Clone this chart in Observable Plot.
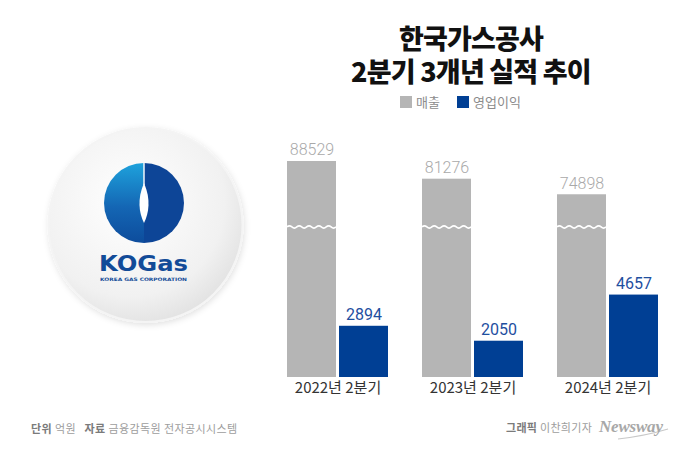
<!DOCTYPE html>
<html>
<head>
<meta charset="utf-8">
<script src="https://cdn.jsdelivr.net/npm/d3@7"></script>
<script src="https://cdn.jsdelivr.net/npm/@observablehq/plot@0.6"></script>
<style>
  html, body { margin: 0; padding: 0; background: #fff; }
  #root { position: relative; width: 700px; height: 450px; overflow: hidden; background: #fff; font-family: "Noto Sans CJK KR", "Noto Sans", sans-serif; }
  .abs { position: absolute; white-space: nowrap; }
  .title { font-weight: 900; font-size: 27px; color: #111; letter-spacing: -0.8px; line-height: 32.5px; width: 700px; text-align: center; }
  .legend { font-size: 13px; color: #8c8c8c; line-height: 13px; }
  .sw { display: inline-block; width: 12px; height: 12px; vertical-align: -1px; margin-right: 4px; }
  .foot { font-size: 11px; line-height: 11px; color: #9d9d9d; }
  .foot b { color: #7b7b7b; font-weight: 700; }
  svg.plot { position: absolute; left: 0; top: 0; }
</style>
</head>
<body>
<div id="root">
  <svg id="deco" class="abs" style="left:0;top:0" width="700" height="450"></svg>
  <div class="abs title" style="left:121px;top:22px;">한국가스공사<br>2분기 3개년 실적 추이</div>
  <div class="abs legend" style="left:400px;top:95px;"><span class="sw" style="background:#b5b5b5"></span>매출</div>
  <div class="abs legend" style="left:457px;top:95px;"><span class="sw" style="background:#003f94"></span>영업이익</div>
  <div class="abs foot" style="left:31px;top:423px;letter-spacing:0.4px;"><b>단위</b> 억원&nbsp;&nbsp;&nbsp;<b>자료</b> 금융감독원 전자공시시스템</div>
  <div class="abs foot" style="left:506px;top:421.5px;letter-spacing:0.3px;"><b>그래픽</b> 이찬희기자</div>
  <div class="abs" style="left:599px;top:418px;font-family:'Liberation Serif',serif;font-style:italic;font-weight:700;font-size:17px;line-height:18px;color:#a8a8a8;letter-spacing:-0.2px;">Newsway</div>
</div>
<script>
// ---- data ----
const years = ["2022년 2분기", "2023년 2분기", "2024년 2분기"];
const sales = [88529, 81276, 74898];      // 매출 (억원)
const profit = [2894, 2050, 4657];        // 영업이익 (억원)
const seriesNames = ["매출", "영업이익"];

const data = years.map((year, i) => ({year, sales: sales[i], profit: profit[i]}));

// ---- layout / style ----
const grayFill = "#b5b5b5", blueFill = "#003f94";
const breakAt = 61500; // decorative axis-break position on the 매출 scale
const common = {
  width: 700, height: 450,
  marginLeft: 286, marginRight: 42, marginTop: 140, marginBottom: 73,
  x: {domain: years, paddingInner: 0.2546, paddingOuter: 0, label: null}
};

const root = document.getElementById("root");

// 매출 layer (own linear scale)
const grayPlot = Plot.plot({
  ...common,
  y: {domain: [0, 97135], axis: null},
  style: {background: "transparent", fontFamily: "'Noto Sans CJK KR', sans-serif", color: "#333"},
  marks: [
    Plot.barY(data, {x: "year", y: "sales", fill: grayFill, insetRight: 52}),
    Plot.text(data, {x: "year", y: "sales", text: d => String(d.sales), dx: -26, dy: -6, lineAnchor: "bottom",
      fill: "#a9a9a9", fontSize: 16, fontFamily: "Roboto", fontWeight: 300}),
    Plot.axisX({tickSize: 0, tickPadding: 5, fontSize: 15, fill: "#333", label: null})
  ]
});
grayPlot.classList.add("plot");
root.appendChild(grayPlot);

// wavy break on the gray bars
{
  const xs = grayPlot.scale("x"), ys = grayPlot.scale("y");
  const svg = d3.select(grayPlot);
  const yb = ys.apply(breakAt);
  const bw = xs.bandwidth - 52;
  for (const yr of years) {
    const x0 = xs.apply(yr);
    const n = 5, seg = bw / n;
    let p = `M${x0},${yb}`;
    for (let k = 0; k < n; k++) {
      const a = x0 + k * seg;
      p += ` Q${a + seg / 4},${yb - 2.2} ${a + seg / 2},${yb} T${a + seg},${yb}`;
    }
    svg.append("path").attr("d", p).attr("fill", "none").attr("stroke", "#fff").attr("stroke-width", 1.6);
  }
}

// 영업이익 layer (own linear scale)
const bluePlot = Plot.plot({
  ...common,
  x: {...common.x, axis: null},
  y: {domain: [0, 13390], axis: null},
  style: {background: "transparent"},
  marks: [
    Plot.barY(data, {x: "year", y: "profit", fill: blueFill, insetLeft: 52}),
    Plot.text(data, {x: "year", y: "profit", text: d => String(d.profit), dx: 26, dy: -6, lineAnchor: "bottom",
      fill: "#1f4f9f", fontSize: 16, fontFamily: "Roboto", fontWeight: 400})
  ]
});
bluePlot.classList.add("plot");
root.appendChild(bluePlot);

// ---- decorative logo ----
{
  const deco = d3.select("#deco");
  const defs = deco.append("defs");
  const rg = defs.append("radialGradient").attr("id", "disc").attr("cx", "0.42").attr("cy", "0.38").attr("r", "0.65");
  rg.append("stop").attr("offset", "0").attr("stop-color", "#ffffff");
  rg.append("stop").attr("offset", "0.75").attr("stop-color", "#f1f1f1");
  rg.append("stop").attr("offset", "1").attr("stop-color", "#e2e2e2");
  const lg = defs.append("linearGradient").attr("id", "lb").attr("x1", 0).attr("y1", 0).attr("x2", 0).attr("y2", 1);
  lg.append("stop").attr("offset", "0").attr("stop-color", "#1ea2dc");
  lg.append("stop").attr("offset", "0.55").attr("stop-color", "#1466b4");
  lg.append("stop").attr("offset", "1").attr("stop-color", "#0d4c9c");
  const f = defs.append("filter").attr("id", "sh").attr("x", "-20%").attr("y", "-20%").attr("width", "140%").attr("height", "140%");
  f.append("feDropShadow").attr("dx", 1).attr("dy", 2).attr("stdDeviation", 3).attr("flood-color", "#000").attr("flood-opacity", 0.12);

  deco.append("circle").attr("cx", 145.5).attr("cy", 225).attr("r", 97).attr("fill", "url(#disc)")
    .attr("stroke", "#f4f4f4").attr("stroke-width", 2).attr("filter", "url(#sh)");

  const cx = 144, cy = 203, r = 40;
  deco.append("path").attr("d", `M${cx},${cy - r} A${r},${r} 0 0 0 ${cx},${cy + r} Z`).attr("fill", "url(#lb)");
  deco.append("path").attr("d", `M${cx},${cy - r} A${r},${r} 0 0 1 ${cx},${cy + r} Z`).attr("fill", "#0d4597");
  deco.append("line").attr("x1", cx).attr("x2", cx).attr("y1", cy - r).attr("y2", cy - 18).attr("stroke", "#fff").attr("stroke-width", 1.4);
  deco.append("path").attr("d", `M${cx},${cy - 20} C${cx + 7},${cy - 4} ${cx + 5},${cy + 10} ${cx},${cy + 20} C${cx - 5},${cy + 10} ${cx - 7},${cy - 4} ${cx},${cy - 20} Z`).attr("fill", "#fff");

  deco.append("text").attr("x", 99).attr("y", 271).attr("textLength", 89).attr("lengthAdjust", "spacingAndGlyphs")
    .attr("font-family", "'DejaVu Sans', sans-serif").attr("font-weight", 700).attr("font-size", 21).attr("fill", "#124b98").text("KOGas");
  deco.append("text").attr("x", 100).attr("y", 280.5).attr("textLength", 87).attr("lengthAdjust", "spacingAndGlyphs")
    .attr("font-family", "'DejaVu Sans', sans-serif").attr("font-weight", 700).attr("font-size", 4.6).attr("fill", "#124b98").text("KOREA GAS CORPORATION");

  deco.append("path").attr("d", "M618,439 Q645,436 668,429").attr("fill", "none").attr("stroke", "#c8c8c8").attr("stroke-width", 1.2);
}
</script>
</body>
</html>
